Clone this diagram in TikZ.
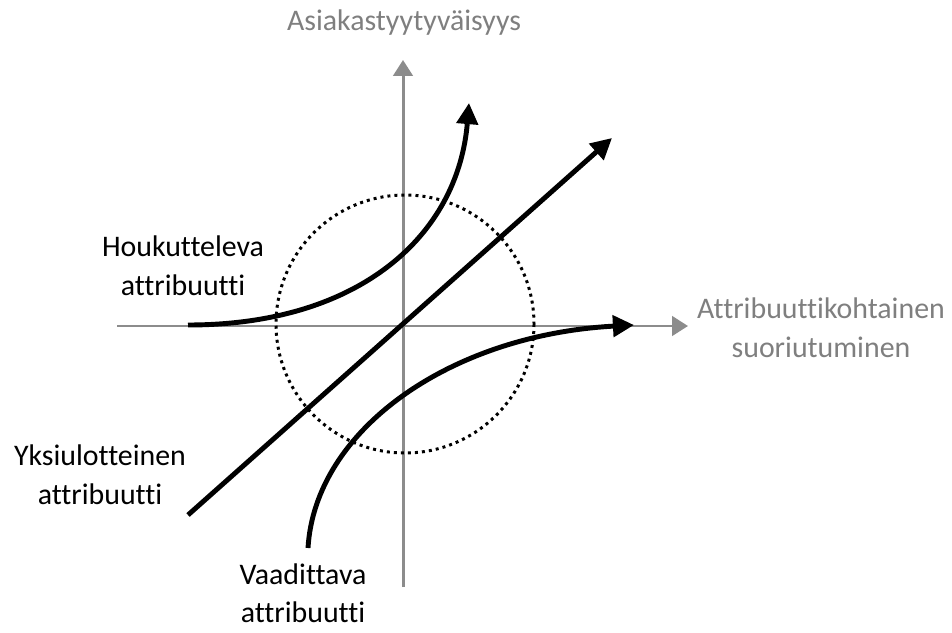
\documentclass[tikz,border=0pt]{standalone}
\usepackage{fontspec}
\setmainfont{Carlito}[Ligatures=NoCommon]
\usetikzlibrary{arrows.meta}
\definecolor{Axis}{HTML}{8C8C8C}
\definecolor{AxisText}{HTML}{7F7F7F}
\tikzset{
  axis/.style={line width=1.7pt,draw=Axis,-{Triangle[length=9pt,width=11pt]}},
  curve/.style={line width=2.8pt,-{Triangle[length=12pt,width=12pt]}},
  zone/.style={line width=1.7pt,dash pattern=on 1.7pt off 2.3pt},
  attr/.style={align=center,font=\fontsize{17}{22}\selectfont,inner sep=0pt},
  axistext/.style={attr,text=AxisText}
}

\begin{document}
\begin{tikzpicture}[x=0.02cm,y=-0.02cm]
  \useasboundingbox (0,0) rectangle (952,632);

  % axes
  \coordinate (origin) at (403,326);
  \coordinate (xstart) at (117,326);
  \coordinate (xend) at (688,326);
  \coordinate (ystart) at (403,587);
  \coordinate (yend) at (403,60);
  \draw[axis] (xstart) -- (xend);
  \draw[axis] (ystart) -- (yend);
  \node[axistext] (ylabel) at (404,23) {Asiakastyytyväisyys};
  \node[axistext] (xlabel) at (821,328) {Attribuuttikohtainen\\suoriutuminen};

  % indifference zone
  \draw[zone] (405,324) circle (129);

  % attribute curves
  \coordinate (hstart) at (188,325);
  \coordinate (hend) at (469,103);
  \coordinate (ystart2) at (188,515);
  \coordinate (yend2) at (612,138);
  \coordinate (vstart) at (308,548);
  \coordinate (vend) at (634,325);
  \draw[curve] (hstart) .. controls (360,325) and (458,235) .. (hend);
  \draw[curve] (ystart2) -- (yend2);
  \draw[curve] (vstart) .. controls (315,430) and (450,335) .. (vend);

  \node[attr] (houk) at (183,266) {Houkutteleva\\attribuutti};
  \node[attr] (yksi) at (100,475) {Yksiulotteinen\\attribuutti};
  \node[attr,text depth=0pt] (vaad) at (303,593) {Vaadittava\\attribuutti};
\end{tikzpicture}
\end{document}
